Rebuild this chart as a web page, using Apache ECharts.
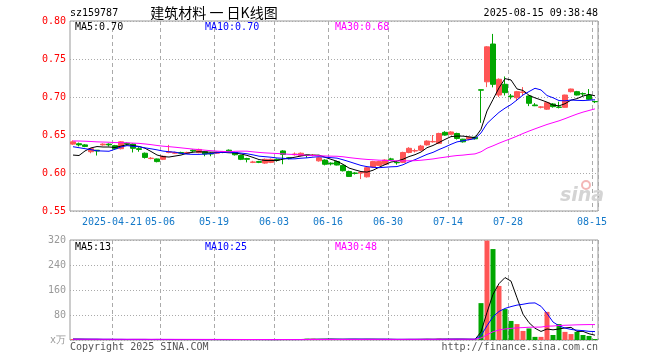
<!DOCTYPE html>
<html><head><meta charset="utf-8">
<script src="https://cdn.jsdelivr.net/npm/echarts@6/dist/echarts.min.js"></script>
<style>html,body{margin:0;padding:0;background:#fff}#c{width:660px;height:360px}</style>
</head><body><div id="c"></div>
<script>
const dates = [
'2025-04-10','2025-04-11','2025-04-14','2025-04-15','2025-04-16','2025-04-17','2025-04-18','2025-04-21','2025-04-22','2025-04-23',
'2025-04-24','2025-04-25','2025-04-28','2025-04-29','2025-04-30','2025-05-06','2025-05-07','2025-05-08','2025-05-09','2025-05-12',
'2025-05-13','2025-05-14','2025-05-15','2025-05-16','2025-05-19','2025-05-20','2025-05-21','2025-05-22','2025-05-23','2025-05-26',
'2025-05-27','2025-05-28','2025-05-29','2025-05-30','2025-06-03','2025-06-04','2025-06-05','2025-06-06','2025-06-09','2025-06-10',
'2025-06-11','2025-06-12','2025-06-13','2025-06-16','2025-06-17','2025-06-18','2025-06-19','2025-06-20','2025-06-23','2025-06-24',
'2025-06-25','2025-06-26','2025-06-27','2025-06-30','2025-07-01','2025-07-02','2025-07-03','2025-07-04','2025-07-07','2025-07-08',
'2025-07-09','2025-07-10','2025-07-11','2025-07-14','2025-07-15','2025-07-16','2025-07-17','2025-07-18','2025-07-21','2025-07-22',
'2025-07-23','2025-07-24','2025-07-25','2025-07-28','2025-07-29','2025-07-30','2025-07-31','2025-08-01','2025-08-04','2025-08-05',
'2025-08-06','2025-08-07','2025-08-08','2025-08-11','2025-08-12','2025-08-13','2025-08-14','2025-08-15'];

const opens = [
0.638,0.6385,0.637,0.628,0.630,0.637,0.638,0.636,0.632,0.639,
0.638,0.632,0.626,0.619,0.6185,0.618,0.627,0.626,0.627,0.626,
0.630,0.627,0.628,0.626,0.626,0.627,0.630,0.627,0.623,0.619,
0.614,0.615,0.613,0.614,0.618,0.629,0.620,0.624,0.623,0.624,
0.623,0.616,0.617,0.613,0.615,0.610,0.602,0.600,0.600,0.595,
0.608,0.610,0.6115,0.6185,0.614,0.614,0.627,0.629,0.630,0.637,
0.641,0.639,0.6535,0.651,0.652,0.6445,0.6445,0.647,0.7095,0.720,
0.7697,0.7026,0.7167,0.7013,0.699,0.706,0.7013,0.6895,0.6865,0.684,
0.6908,0.6868,0.6864,0.707,0.707,0.7045,0.7026,0.694];

const closes = [
0.641,0.637,0.635,0.632,0.629,0.638,0.637,0.632,0.641,0.638,
0.6325,0.631,0.6205,0.6195,0.615,0.622,0.628,0.627,0.626,0.627,
0.629,0.631,0.625,0.625,0.627,0.628,0.628,0.624,0.618,0.618,
0.6145,0.614,0.618,0.618,0.617,0.6245,0.6195,0.625,0.626,0.623,
0.6235,0.620,0.6115,0.612,0.6105,0.603,0.5955,0.5995,0.601,0.607,
0.615,0.615,0.617,0.618,0.6135,0.627,0.6325,0.6295,0.6355,0.642,
0.6415,0.652,0.650,0.654,0.6455,0.641,0.647,0.645,0.709,0.766,
0.7167,0.7233,0.7057,0.7004,0.707,0.7066,0.6917,0.6885,0.687,0.6925,
0.6873,0.6864,0.7026,0.7105,0.7026,0.704,0.697,0.6938];

const lows = [
0.637,0.635,0.634,0.626,0.623,0.636,0.635,0.631,0.631,0.636,
0.627,0.628,0.619,0.618,0.614,0.617,0.626,0.625,0.625,0.625,
0.627,0.626,0.622,0.622,0.625,0.626,0.627,0.623,0.617,0.614,
0.613,0.613,0.612,0.613,0.615,0.6115,0.618,0.623,0.622,0.620,
0.622,0.615,0.610,0.610,0.610,0.602,0.595,0.598,0.592,0.594,
0.607,0.609,0.611,0.616,0.611,0.613,0.626,0.627,0.629,0.636,
0.640,0.638,0.649,0.650,0.644,0.640,0.643,0.644,0.666,0.713,
0.7127,0.700,0.702,0.697,0.695,0.702,0.688,0.688,0.685,0.683,
0.686,0.685,0.686,0.706,0.702,0.701,0.696,0.692];

const highs = [
0.643,0.640,0.638,0.633,0.630,0.639,0.639,0.637,0.642,0.640,
0.639,0.634,0.627,0.621,0.619,0.623,0.637,0.628,0.628,0.628,
0.631,0.632,0.629,0.627,0.628,0.629,0.631,0.628,0.624,0.620,
0.616,0.616,0.619,0.619,0.619,0.630,0.621,0.627,0.627,0.625,
0.625,0.621,0.618,0.614,0.616,0.611,0.603,0.601,0.602,0.608,
0.616,0.616,0.618,0.620,0.616,0.628,0.634,0.632,0.637,0.643,
0.650,0.653,0.655,0.655,0.653,0.645,0.648,0.648,0.7095,0.767,
0.783,0.7245,0.727,0.704,0.708,0.713,0.702,0.692,0.688,0.693,
0.692,0.6938,0.703,0.711,0.708,0.706,0.7105,0.695];

// volume in 万
const volumes = [
3,2,2,2,2,1,2,2,2,1,
2,2,2,1,2,1,2,1,1,1,
2,1,1,2,1,1,1,2,2,1,
1,1,1,1,1,3,1,1,2,4,
4,2,2,3,2,3,3,2,2,3,
3,2,2,1,1,3,3,2,2,3,
2,4,3,2,3,2,2,2,118,318,
291,173,99,61,51,29,37,10,10,90,
16,51,26,19,26,16,13,3];

// estimated closes / volumes of the 29 sessions before the first visible day (feed the moving averages)
const priorCloses = [0.640,0.642,0.644,0.643,0.645,0.644,0.646,0.644,0.643,0.645,0.642,0.644,0.646,
0.648,0.650,0.647,0.649,0.651,0.652,0.654,0.650,0.648,0.645,0.644,0.641,0.640,0.605,0.612,0.620];
const priorVolumes = [2,2,3,2,2,2,3,2,2,2,2,3,2,2,2,2,3,2,2,2,3,2,2,3,3,2,4,3,2];

const tickDates = ['2025-04-21','2025-05-06','2025-05-19','2025-06-03','2025-06-16','2025-06-30','2025-07-14','2025-07-28','2025-08-15'];
const tickLabels = ['2025-04-21','05-06','05-19','06-03','06-16','06-30','07-14','07-28','08-15'];
const priceLegend = ['MA5:0.70','MA10:0.70','MA30:0.68'];
const volumeLegend = ['MA5:13','MA10:25','MA30:48'];

const RED = '#ff5555', GREEN = '#00a600';
const MA_COLORS = ['#000000','#0000ff','#ff00ff'];
const MONO = '"DejaVu Sans Mono", monospace';

function movingAvg(prior, vals, n) {
  const all = prior.concat(vals);
  const off = prior.length;
  return vals.map((_, i) => {
    let s = 0;
    for (let k = off + i - n + 1; k <= off + i; k++) s += all[k];
    return +(s / n).toFixed(5);
  });
}

const tickIdx = tickDates.map(d => dates.indexOf(d));
const candleData = dates.map((d, i) => [opens[i], closes[i], lows[i], highs[i]]);
const upDown = dates.map((d, i) => {
  if (closes[i] > opens[i]) return 1;
  if (closes[i] < opens[i]) return -1;
  const prev = i > 0 ? closes[i - 1] : priorCloses[priorCloses.length - 1];
  return closes[i] >= prev ? 1 : -1;
});
const volData = volumes.map((v, i) => ({ value: v, itemStyle: { color: upDown[i] > 0 ? RED : GREEN } }));

const periods = [5, 10, 30];
const priceMA = periods.map(n => movingAvg(priorCloses, closes, n));
const volMA = periods.map(n => movingAvg(priorVolumes, volumes, n));

const dashed = { show: true, interval: (idx) => tickIdx.indexOf(idx) >= 0, lineStyle: { color: '#aaaaaa', type: [4, 3], width: 1 } };

const chart = echarts.init(document.getElementById('c'), null, { renderer: 'canvas' });
const lineSeries = [];
periods.forEach((n, k) => {
  lineSeries.push({ type: 'line', xAxisIndex: 0, yAxisIndex: 0, data: priceMA[k], symbol: 'none', silent: true,
    lineStyle: { color: MA_COLORS[k], width: 1 }, z: 3 });
  lineSeries.push({ type: 'line', xAxisIndex: 1, yAxisIndex: 1, data: volMA[k], symbol: 'none', silent: true,
    lineStyle: { color: MA_COLORS[k], width: 1 }, z: 3 });
});

const legendX = [75, 205, 335];
const graphics = [
  { type: 'text', x: 70, y: 13, style: { text: 'sz159787', font: '10px ' + MONO, fill: '#000', verticalAlign: 'middle' } },
  { type: 'text', x: 214, y: 13, style: { text: '建筑材料 一 日K线图', font: '14px "Noto Sans CJK SC"', fill: '#000', align: 'center', verticalAlign: 'middle' } },
  { type: 'text', x: 598, y: 13, style: { text: '2025-08-15 09:38:48', font: '10px ' + MONO, fill: '#000', align: 'right', verticalAlign: 'middle' } },
  { type: 'text', x: 70, y: 347, style: { text: 'Copyright 2025 SINA.COM', font: '10px ' + MONO, fill: '#555', verticalAlign: 'middle' } },
  { type: 'text', x: 598, y: 347, style: { text: 'http://finance.sina.com.cn', font: '10px ' + MONO, fill: '#555', align: 'right', verticalAlign: 'middle' } },
  { type: 'text', x: 582, y: 196, z: 1, style: { text: 'sina', font: 'italic bold 19px "DejaVu Sans"', fill: '#d4d4d4', align: 'center', verticalAlign: 'middle' } },
  { type: 'circle', shape: { cx: 586, cy: 185, r: 4 }, z: 1, style: { fill: 'none', stroke: '#f3b7b7', lineWidth: 2 } }
];
priceLegend.forEach((t, k) => graphics.push({ type: 'text', x: legendX[k], y: 27, z: 10,
  style: { text: t, font: '10px ' + MONO, fill: MA_COLORS[k], verticalAlign: 'middle' } }));
volumeLegend.forEach((t, k) => graphics.push({ type: 'text', x: legendX[k], y: 247, z: 10,
  style: { text: t, font: '10px ' + MONO, fill: MA_COLORS[k], verticalAlign: 'middle' } }));

chart.setOption({
  animation: false,
  backgroundColor: '#fff',
  grid: [
    { left: 70, top: 21, width: 528, height: 190, show: true, borderColor: '#999', borderWidth: 1, backgroundColor: '#fff' },
    { left: 70, top: 240, width: 528, height: 100, show: true, borderColor: '#999', borderWidth: 1, backgroundColor: '#fff' }
  ],
  xAxis: [
    { type: 'category', gridIndex: 0, data: dates, boundaryGap: true,
      axisLine: { show: false }, axisTick: { show: false },
      axisLabel: { interval: (idx) => tickIdx.indexOf(idx) >= 0, formatter: (v) => tickLabels[tickDates.indexOf(v)] || '',
        color: '#1479c9', fontFamily: MONO, fontSize: 10, margin: 6, padding: [0, 6, 0, 0], hideOverlap: false },
      splitLine: dashed },
    { type: 'category', gridIndex: 1, data: dates, boundaryGap: true,
      axisLine: { show: false }, axisTick: { show: false }, axisLabel: { show: false },
      splitLine: dashed }
  ],
  yAxis: [
    { type: 'value', gridIndex: 0, min: 0.55, max: 0.80, interval: 0.05, scale: true,
      axisLine: { show: false }, axisTick: { show: false },
      axisLabel: { formatter: (v) => v.toFixed(2), color: '#ff0000', fontFamily: MONO, fontSize: 10, margin: 4 },
      splitLine: { show: true, lineStyle: { color: '#aaaaaa', type: [1, 2], width: 1 } } },
    { type: 'value', gridIndex: 1, min: 0, max: 320, interval: 80,
      axisLine: { show: false }, axisTick: { show: false },
      axisLabel: { formatter: (v) => v === 0 ? 'x万' : String(v), color: '#999', fontFamily: MONO, fontSize: 10, margin: 4 },
      splitLine: { show: true, lineStyle: { color: '#aaaaaa', type: [1, 2], width: 1 } } }
  ],
  series: [
    { type: 'candlestick', xAxisIndex: 0, yAxisIndex: 0, data: candleData, barWidth: 5, z: 2,
      itemStyle: { color: RED, color0: GREEN, borderColor: RED, borderColor0: GREEN, borderWidth: 1 } },
    { type: 'bar', xAxisIndex: 1, yAxisIndex: 1, data: volData, barWidth: 5, z: 2 }
  ].concat(lineSeries),
  graphic: graphics
});
</script></body></html>
